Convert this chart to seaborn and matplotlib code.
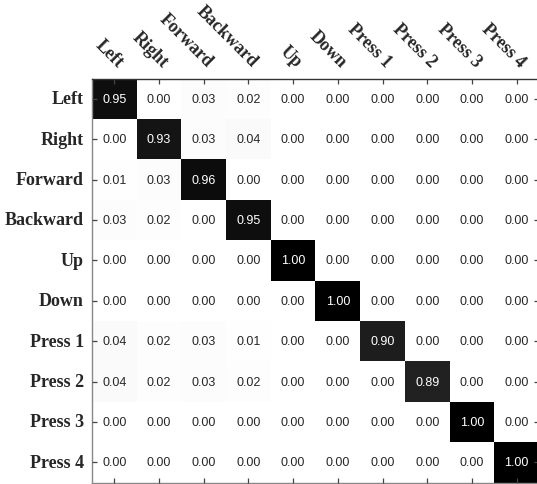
import numpy as np
import pandas as pd
import matplotlib
matplotlib.use("Agg")
import matplotlib.pyplot as plt
import seaborn as sns

# confusion matrix of gesture classes
classes = ["Left", "Right", "Forward", "Backward", "Up", "Down",
           "Press 1", "Press 2", "Press 3", "Press 4"]

row_left     = [0.95, 0.00, 0.03, 0.02, 0.00, 0.00, 0.00, 0.00, 0.00, 0.00]
row_right    = [0.00, 0.93, 0.03, 0.04, 0.00, 0.00, 0.00, 0.00, 0.00, 0.00]
row_forward  = [0.01, 0.03, 0.96, 0.00, 0.00, 0.00, 0.00, 0.00, 0.00, 0.00]
row_backward = [0.03, 0.02, 0.00, 0.95, 0.00, 0.00, 0.00, 0.00, 0.00, 0.00]
row_up       = [0.00, 0.00, 0.00, 0.00, 1.00, 0.00, 0.00, 0.00, 0.00, 0.00]
row_down     = [0.00, 0.00, 0.00, 0.00, 0.00, 1.00, 0.00, 0.00, 0.00, 0.00]
row_press1   = [0.04, 0.02, 0.03, 0.01, 0.00, 0.00, 0.90, 0.00, 0.00, 0.00]
row_press2   = [0.04, 0.02, 0.03, 0.02, 0.00, 0.00, 0.00, 0.89, 0.00, 0.00]
row_press3   = [0.00, 0.00, 0.00, 0.00, 0.00, 0.00, 0.00, 0.00, 1.00, 0.00]
row_press4   = [0.00, 0.00, 0.00, 0.00, 0.00, 0.00, 0.00, 0.00, 0.00, 1.00]

cm = pd.DataFrame([row_left, row_right, row_forward, row_backward, row_up,
                   row_down, row_press1, row_press2, row_press3, row_press4],
                  index=classes, columns=classes)

sns.set_style("ticks")
plt.rcParams['font.family'] = ['Liberation Sans', 'DejaVu Sans']

fig = plt.figure(figsize=(5.37, 4.85), dpi=100)
ax = fig.add_axes([92/537, 1.5/485, 447/537, 404/485])

sns.heatmap(cm, ax=ax, cmap="Greys", vmin=0, vmax=1, cbar=False,
            annot=True, fmt=".2f", annot_kws={"size": 9})
ax.set_axisbelow(False)  # ticks over the cells

# seaborn hides the spines, bring them back
for side in ["top", "bottom", "left", "right"]:
    ax.spines[side].set_visible(True)
    ax.spines[side].set_linewidth(1.0)
ax.spines["top"].set_color("#333333")
ax.spines["left"].set_color("#888888")
ax.spines["bottom"].set_color("#888888")
ax.spines["right"].set_color("#888888")

ax.tick_params(which="major", top=True, bottom=True, left=True, right=True,
               labeltop=True, labelbottom=False, direction="in",
               length=3.5, width=0.9, color="#444444", pad=6)

plt.setp(ax.get_xticklabels(), rotation=-45, ha="right", rotation_mode="anchor",
         family="Liberation Serif", weight="bold", size=13)
plt.setp(ax.get_yticklabels(), rotation=0, family="Liberation Serif",
         weight="bold", size=13)
ax.set_xlabel("")
ax.set_ylabel("")

plt.savefig("out.png", dpi=100)
